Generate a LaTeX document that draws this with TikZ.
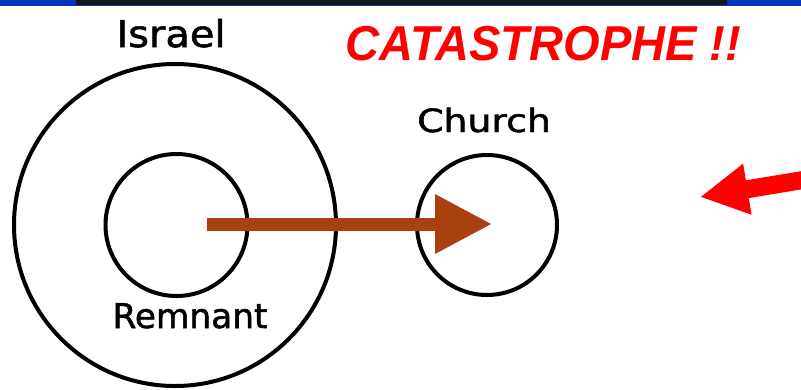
\documentclass[tikz,border=0pt]{standalone}
\usepackage{fontspec}
\usetikzlibrary{arrows.meta}
\newfontfamily\lblfont[FakeBold=1.5]{DejaVu Sans}
\newfontfamily\catfont{Liberation Sans}
\definecolor{topblue}{RGB}{0,51,190}
\definecolor{topdark}{RGB}{20,22,24}
\definecolor{arrowbrown}{RGB}{168,64,16}
\definecolor{alarmred}{RGB}{255,0,0}
\begin{document}
\begin{tikzpicture}[x=1pt,y=-1pt,
  ring/.style={circle,draw=black,line width=4pt,inner sep=0pt,outer sep=0pt},
  lbl/.style={inner sep=0pt,anchor=base,text=black},
  bigarrow/.style={draw=arrowbrown,line width=13pt,-{Triangle[length=57pt,width=56pt]}},
  redarrow/.style={draw=alarmred,line width=18pt,-{Triangle[length=48pt,width=48pt]}}]
\useasboundingbox (0,0) rectangle (801,389);
% top band
\fill[topblue] (0,0) rectangle (801,6);
\fill[topdark] (76,0) rectangle (727,4.5);
% circles
\node[ring,minimum size=322pt] (israel) at (175,225) {};
\node[ring,minimum size=142pt] (remnant) at (176.5,225) {};
\node[ring,minimum size=140pt] (church) at (487,225) {};
% labels
\node[lbl] (tisrael) at (171,47) {\lblfont\fontsize{37}{40}\selectfont\scalebox{1.08}[1]{Israel}};
\node[lbl] (tchurch) at (484,132) {\lblfont\fontsize{32}{36}\selectfont\scalebox{1.18}[1]{Church}};
\node[lbl] (tremnant) at (190,328) {\lblfont\fontsize{34}{38}\selectfont\scalebox{1.01}[1]{Remnant}};
\node[lbl,text=alarmred] (tcat) at (543.5,60) {\catfont\bfseries\itshape\fontsize{49}{52}\selectfont\scalebox{0.96}[1]{CATASTROPHE !!}};
% arrows
\coordinate (bstart) at (207,224);
\coordinate (bend) at (492,224);
\draw[bigarrow] (bstart) -- (bend);
\coordinate (rstart) at (803,180);
\coordinate (rend) at (700,197);
\draw[redarrow] (rstart) -- (rend);
\end{tikzpicture}
\end{document}
